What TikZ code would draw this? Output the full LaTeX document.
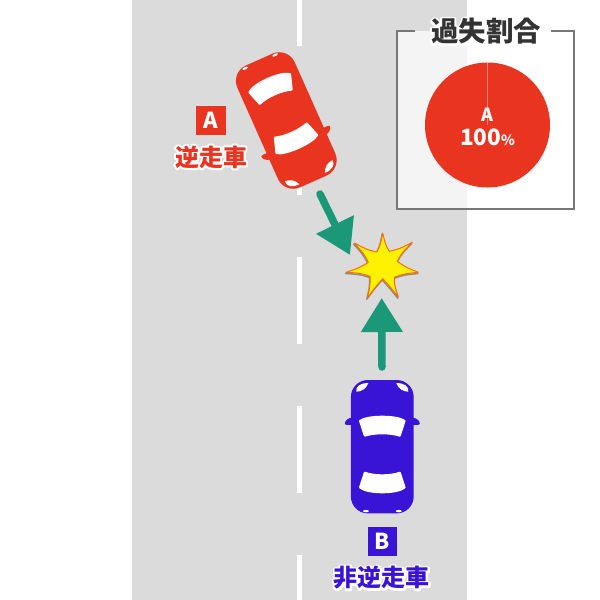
\documentclass[tikz,border=0pt]{standalone}
\usepackage{fontspec}
\usepackage{tikz}
\usetikzlibrary{arrows.meta}
\setmainfont{Noto Sans CJK JP}
\definecolor{roadgray}{HTML}{DBDBDB}
\definecolor{carred}{HTML}{E93420}
\definecolor{carblue}{HTML}{3A14D6}
\definecolor{arrowgreen}{HTML}{1A9878}
\definecolor{panelgray}{HTML}{777777}
\definecolor{titledark}{HTML}{333333}
\tikzset{
    crashArrow/.style={line width=7.5pt, arrowgreen, line cap=round, -{Triangle[length=34pt,width=40pt]}},
    tagBox/.style={minimum size=29.5pt, inner sep=0pt, text=white, font=\bfseries\fontsize{22}{22}\selectfont},
    carLabel/.style={inner sep=0pt, font=\bfseries\fontsize{24}{24}\selectfont},
    carWindow/.style={fill=white, draw=white, line width=2pt, line join=round},
    pics/car/.style={code={
        % Body and mirrors
        \fill[#1, rounded corners=17pt] (-31.4,-66.7) rectangle (31.4,66.7);
        \foreach \s in {-1,1} {
            \begin{scope}[xscale=\s]
            \fill[#1] (30,-29) .. controls (34,-29) and (37.5,-26) .. (37.5,-23)
                .. controls (37.5,-21.5) and (33,-21.5) .. (30,-22) -- cycle;
            % Lights
            \fill[white] (14,-63.5) .. controls (22,-64) and (27,-60) .. (26,-55)
                .. controls (21,-55) and (16,-58) .. cycle;
            \fill[white] (16.4,64.4) ellipse (3pt and 1.2pt);
            \end{scope}
        }
        % Windows
        \path[carWindow] (-22.3,-25.8) .. controls (-15,-31.4) and (15,-31.4) .. (22.3,-25.8)
            -- (17.5,-11) .. controls (8,-14.2) and (-8,-14.2) .. (-17.5,-11) -- cycle;
        \path[carWindow] (-17.5,26) .. controls (-8,29.5) and (8,29.5) .. (17.5,26)
            -- (22.3,40.8) .. controls (15,47.2) and (-15,47.2) .. (-22.3,40.8) -- cycle;
    }}
}
\newcommand{\crashpath}{(382.7,233) .. controls (385.4,244.5) .. (389.3,251.3)
    .. controls (399.3,249) .. (412.3,242.3) .. controls (402.1,252.7) .. (397.3,261.3)
    .. controls (405.7,267.2) .. (418.3,272.3) .. controls (403.9,273.8) .. (394.3,277.3)
    .. controls (394.5,285.4) .. (398.3,297) .. controls (390.1,286.8) .. (382.7,278.7)
    .. controls (375.3,287.2) .. (367.3,298) .. controls (370.2,285.2) .. (370,276.3)
    .. controls (360.4,273.2) .. (346,272.3) .. controls (359.4,267.8) .. (368.3,262.3)
    .. controls (363.7,253.5) .. (354.3,243) .. controls (367.2,249.7) .. (376.7,252)
    .. controls (380.4,244.8) .. (382.7,233) -- cycle}
% white outline under a text
\newcommand{\halotext}[1]{\leavevmode\rlap{{\color{white}\special{pdf:code q 1 j 1 J 4 w 2 Tr}#1\special{pdf:code 0 Tr Q}}}#1}

\begin{document}
\begin{tikzpicture}[x=1pt,y=-1pt]
\useasboundingbox (0,0) rectangle (600,600);
\fill[white] (0,0) rectangle (600,600);
% Road
\fill[roadgray] (132,0) rectangle (467,600);
\foreach \d in {-41,108,257,406,555} {
    \fill[white] (296.5,\d) rectangle (302,\d+87);
}

% Cars
\pic at (382.3,446.7) {car=carblue};
\pic[rotate=204] at (286.3,120.5) {car=carred};

% Arrows
\coordinate (startA) at (320,194);
\coordinate (tipA) at (350,255);
\coordinate (startB) at (382,367);
\coordinate (tipB) at (381.7,298);
\draw[crashArrow] (startA) -- (tipA);
\draw[crashArrow] (startB) -- (tipB);

% Collision mark
\draw[black!45, line width=1.5pt, line join=round, shift={(-0.5,1.2)}] \crashpath;
\filldraw[fill=yellow, draw=orange!85!red, line width=1pt, line join=round] \crashpath;

% Labels
\node[tagBox, fill=carred] (tagA) at (211.2,120.4) {A};
\node[carLabel, text=carred] (labelA) at (211,157) {\halotext{逆走車}};
\node[tagBox, fill=carblue] (tagB) at (382.3,541.7) {B};
\node[carLabel, text=carblue] (labelB) at (381.5,578) {\halotext{非逆走車}};

% Ratio panel
\fill[white, opacity=0.7] (397,31) rectangle (574,209);
\draw[panelgray, line width=2pt] (415,31) -- (397,31) -- (397,209) -- (574,209) -- (574,31) -- (551,31);
\node[inner sep=0pt, text=titledark, font=\bfseries\fontsize{27.5}{27.5}\selectfont] (ratioTitle) at (486,31.5) {\halotext{過失割合}};
\fill[carred] (487.5,125) circle (62.5);
\draw[white, opacity=0.4, line width=0.8pt] (487.5,62.5) -- (487.5,125);
\node[inner sep=0pt, text=white, font=\bfseries\fontsize{18}{18}\selectfont] (ratioName) at (487.5,115) {A};
\node[inner sep=0pt, text=white, font=\bfseries\fontsize{22.5}{22.5}\selectfont] (ratioValue) at (487.5,137) {100{\fontsize{14}{14}\selectfont\%}};
\end{tikzpicture}
\end{document}
